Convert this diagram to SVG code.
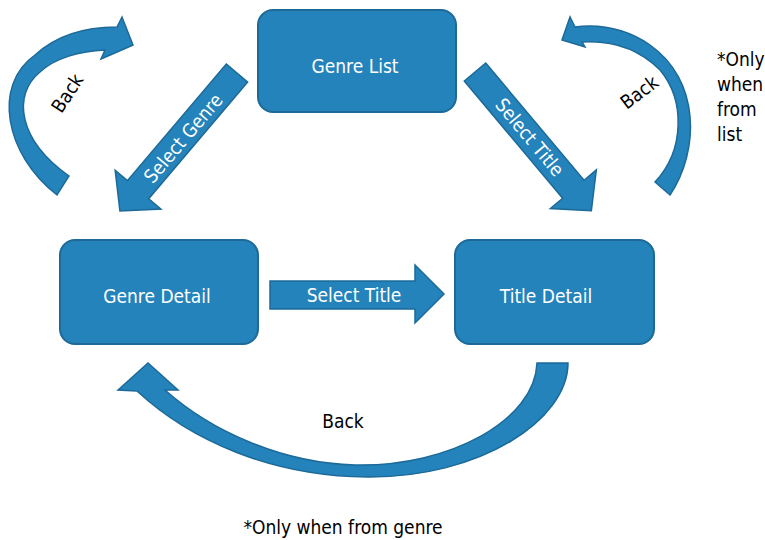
<svg xmlns="http://www.w3.org/2000/svg" width="765" height="540" viewBox="0 0 765 540">
<style>
.shape{fill:#2383BA;stroke:#1D6A99;stroke-width:1.5}
.box{fill:#2383BA;stroke:#1D6A99;stroke-width:2}
.t{font-family:"Liberation Sans Narrow","DejaVu Sans Condensed","Roboto Condensed","Liberation Sans",sans-serif;font-stretch:condensed;font-size:19px;text-anchor:middle;dominant-baseline:central}
.w{fill:#ffffff}
.k{fill:#000000}
</style>
<rect width="765" height="540" fill="#ffffff"/>
<g id="connectors">
  <g id="select-genre">
    <path class="shape" transform="translate(237,73) rotate(130.3)" d="M0,-14 L153,-14 L153,-30 L181,0 L153,30 L153,14 L0,14 Z"/>
    <text class="t w" transform="translate(183,138) rotate(-49.7)">Select Genre</text>
  </g>
  <g id="select-title-diag">
    <path class="shape" transform="translate(475,72) rotate(50)" d="M0,-14 L153,-14 L153,-30 L181,0 L153,30 L153,14 L0,14 Z"/>
    <text class="t w" transform="translate(530,137) rotate(50)">Select Title</text>
  </g>
  <g id="select-title-horiz">
    <path class="shape" d="M270,281 L415,281 L415,265 L444,294 L415,323 L415,309 L270,309 Z"/>
    <text class="t w" x="354" y="295">Select Title</text>
  </g>
  <g id="back-left">
    <path class="shape" d="M57,195 C5,155 -8,85 35,55 C60,32 90,27 117,27 L122,17 L133,45 L101,59 L105,50 C80,51 55,58 40,72 C12,95 18,140 69,176 Z"/>
    <text class="t k" transform="translate(67,93) rotate(-57)">Back</text>
  </g>
  <g id="back-right">
    <path class="shape" d="M670,195 C700,150 700,80 650,45 C625,28 600,24 575,27 L570,17 L562,40 L585,47 L582,42 C615,40 640,50 660,70 C685,100 685,150 655,182 Z"/>
    <text class="t k" transform="translate(639,92) rotate(-37)">Back</text>
  </g>
  <g id="back-bottom">
    <path class="shape" d="M537,363 L568,363 C568,420 480,478 367,477 C270,476 190,440 137,391 L118,390 L148,363 L178,390 L165,390 C210,430 280,463 355,465 C450,467 535,420 537,363 Z"/>
    <text class="t k" x="343" y="421">Back</text>
  </g>
</g>
<g id="genre-list">
  <rect class="box" x="258" y="10" width="198" height="102" rx="15"/>
  <text class="t w" x="355" y="66">Genre List</text>
</g>
<g id="genre-detail">
  <rect class="box" x="60" y="240" width="198" height="104" rx="15"/>
  <text class="t w" x="157" y="296">Genre Detail</text>
</g>
<g id="title-detail">
  <rect class="box" x="455" y="240" width="199" height="104" rx="15"/>
  <text class="t w" x="546" y="296">Title Detail</text>
</g>
<g id="notes">
  <text class="t k" x="343" y="527">*Only when from genre</text>
  <text class="t k" style="text-anchor:start" x="717" y="59">*Only</text>
  <text class="t k" style="text-anchor:start" x="717" y="84">when</text>
  <text class="t k" style="text-anchor:start" x="717" y="109">from</text>
  <text class="t k" style="text-anchor:start" x="717" y="134">list</text>
</g>
</svg>
